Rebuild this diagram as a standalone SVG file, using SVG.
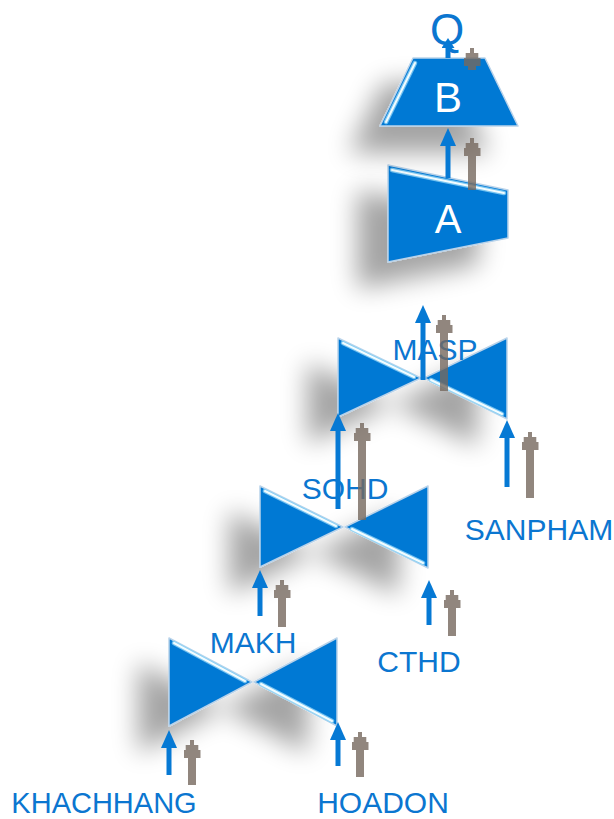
<svg xmlns="http://www.w3.org/2000/svg" width="614" height="819" viewBox="0 0 614 819">
<style>
.shape{fill:#0679d4;stroke:#b9d3ea;stroke-width:1.5;stroke-linejoin:round}
.glow{fill:none;stroke:#8fd6f8;stroke-width:4.5;stroke-linecap:round;opacity:0.8}
.hl{fill:none;stroke:#f2fcff;stroke-width:2;stroke-linecap:round}
.lbl{font-family:"Liberation Sans",Arial,sans-serif;font-size:30px;fill:#0b76d0;text-anchor:middle}
.big{font-family:"Liberation Sans",Arial,sans-serif;fill:#ffffff;text-anchor:middle}
.ab{stroke:#0679d4;stroke-width:5;fill:none}
.ag{stroke:#76695f;stroke-width:8;fill:none;opacity:0.8}
</style>
<defs>
<filter id="sh" x="-80%" y="-80%" width="260%" height="260%">
<feGaussianBlur in="SourceAlpha" stdDeviation="13"/>
<feOffset dx="-30" dy="26"/>
<feComponentTransfer><feFuncA type="linear" slope="0.36"/></feComponentTransfer>
<feMerge><feMergeNode/><feMergeNode in="SourceGraphic"/></feMerge>
</filter>
<marker id="hb" markerUnits="userSpaceOnUse" viewBox="0 0 18 16" refX="0" refY="8" markerWidth="18" markerHeight="16" orient="auto">
<path d="M0,0 L18,8 L0,16 Z" fill="#0679d4"/>
</marker>
<marker id="hbs" markerUnits="userSpaceOnUse" viewBox="0 0 10 13" refX="0" refY="6.5" markerWidth="10" markerHeight="13" orient="auto">
<path d="M0,0 L10,6.5 L0,13 Z" fill="#0679d4"/>
</marker>
<marker id="hg" markerUnits="userSpaceOnUse" viewBox="0 0 18 17" refX="0" refY="8.5" markerWidth="18" markerHeight="17" orient="auto">
<path d="M0,0 L8,0 L8,2.2 L13,2.2 L13,6.5 L18,6.5 L18,10.5 L13,10.5 L13,14.8 L8,14.8 L8,17 L0,17 Z" fill="#76695f"/>
</marker>
</defs>

<g id="node-makh">
<g filter="url(#sh)">
<polygon class="shape" points="169,638 252,682 169,726"/>
<polygon class="shape" points="337,638 254,682 337,726"/>
<line class="glow" x1="174" y1="643" x2="245" y2="681"/>
<line class="hl" x1="174" y1="643" x2="245" y2="681"/>
<line class="glow" x1="261" y1="684" x2="332" y2="721"/>
<line class="hl" x1="261" y1="684" x2="332" y2="721"/>
</g>
<text class="lbl" x="253" y="653">MAKH</text>
</g>

<g id="node-sohd">
<g filter="url(#sh)">
<polygon class="shape" points="260,486 343,527 260,567"/>
<polygon class="shape" points="428,486 345,527 428,568"/>
<line class="glow" x1="265" y1="491" x2="336" y2="526"/>
<line class="hl" x1="265" y1="491" x2="336" y2="526"/>
<line class="glow" x1="352" y1="529" x2="423" y2="563"/>
<line class="hl" x1="352" y1="529" x2="423" y2="563"/>
</g>
<text class="lbl" x="345" y="499">SOHD</text>
</g>

<g id="node-masp">
<g filter="url(#sh)">
<polygon class="shape" points="338,338 421,378 338,417"/>
<polygon class="shape" points="507,338 424,378 507,419"/>
<line class="glow" x1="343" y1="343" x2="414" y2="377"/>
<line class="hl" x1="343" y1="343" x2="414" y2="377"/>
<line class="glow" x1="431" y1="380" x2="502" y2="414"/>
<line class="hl" x1="431" y1="380" x2="502" y2="414"/>
</g>
<text class="lbl" x="435" y="360">MASP</text>
</g>

<g id="node-a">
<g filter="url(#sh)">
<polygon class="shape" points="388,165 508,190 508,238 388,262"/>
<line class="glow" x1="392" y1="170" x2="504" y2="193"/>
<line class="hl" x1="392" y1="170" x2="504" y2="193"/>
</g>
<text class="big" x="448" y="233" font-size="40">A</text>
</g>

<g id="node-b">
<g filter="url(#sh)">
<polygon class="shape" points="413,58 485,58 518,126 380,126"/>
<line class="glow" x1="415" y1="63" x2="386" y2="122"/>
<line class="hl" x1="415" y1="63" x2="386" y2="122"/>
</g>
<text class="big" x="448" y="112" font-size="42">B</text>
</g>

<g id="node-q">
<text class="lbl" x="447" y="45" style="font-size:44px">Q</text>
</g>

<g id="node-khachhang"><text class="lbl" x="104" y="813" style="font-size:29px">KHACHHANG</text></g>
<g id="node-hoadon"><text class="lbl" x="383" y="813">HOADON</text></g>
<g id="node-cthd"><text class="lbl" x="419" y="672">CTHD</text></g>
<g id="node-sanpham"><text class="lbl" x="539" y="540">SANPHAM</text></g>

<g id="connectors">
<!-- KHACHHANG -> MAKH bowtie -->
<line class="ab" x1="169" y1="775" x2="169" y2="748" marker-end="url(#hb)"/>
<line class="ag" x1="192" y1="785" x2="192" y2="758" marker-end="url(#hg)"/>
<!-- HOADON -> MAKH bowtie -->
<line class="ab" x1="338" y1="766" x2="338" y2="740" marker-end="url(#hb)"/>
<line class="ag" x1="360" y1="777" x2="360" y2="750" marker-end="url(#hg)"/>
<!-- MAKH -> SOHD bowtie -->
<line class="ab" x1="260" y1="616" x2="260" y2="588" marker-end="url(#hb)"/>
<line class="ag" x1="282" y1="627" x2="282" y2="598" marker-end="url(#hg)"/>
<!-- CTHD -> SOHD bowtie -->
<line class="ab" x1="429" y1="625" x2="429" y2="598" marker-end="url(#hb)"/>
<line class="ag" x1="452" y1="636" x2="452" y2="608" marker-end="url(#hg)"/>
<!-- SOHD -> MASP bowtie -->
<line class="ab" x1="338" y1="509" x2="338" y2="431" marker-end="url(#hb)"/>
<line class="ag" x1="362" y1="520" x2="362" y2="441" marker-end="url(#hg)"/>
<!-- SANPHAM -> MASP bowtie -->
<line class="ab" x1="507" y1="487" x2="507" y2="438" marker-end="url(#hb)"/>
<line class="ag" x1="530" y1="498" x2="530" y2="450" marker-end="url(#hg)"/>
<!-- MASP -> A -->
<line class="ab" x1="423" y1="380" x2="423" y2="323" marker-end="url(#hb)"/>
<line class="ag" x1="444" y1="391" x2="444" y2="333" marker-end="url(#hg)"/>
<!-- A -> B -->
<line class="ab" x1="448" y1="178" x2="448" y2="146" marker-end="url(#hb)"/>
<line class="ag" x1="472" y1="190" x2="472" y2="156" marker-end="url(#hg)"/>
<!-- B -> Q -->
<line class="ab" x1="448" y1="58" x2="448" y2="48" marker-end="url(#hbs)"/>
<line class="ag" x1="472" y1="70" x2="472" y2="66" marker-end="url(#hg)"/>
</g>
</svg>
